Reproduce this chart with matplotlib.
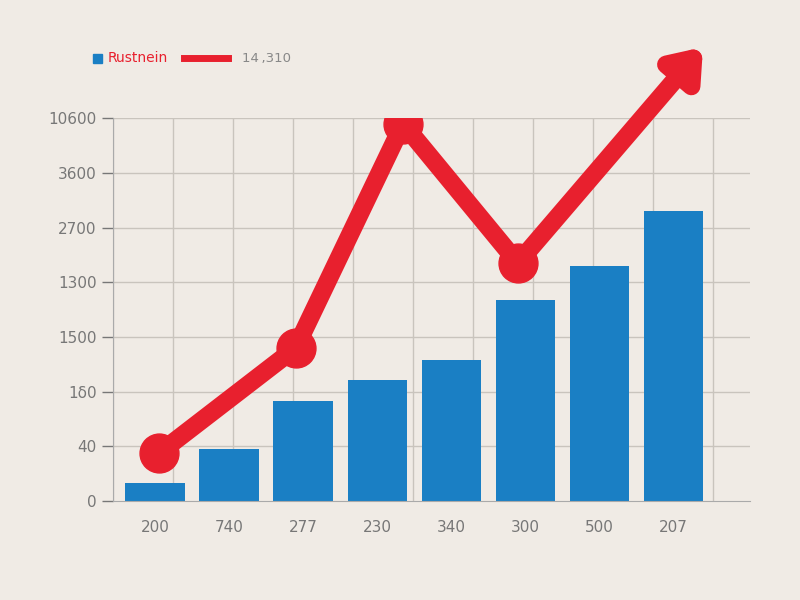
import matplotlib.pyplot as plt
import matplotlib.patches as mpatches
import matplotlib.lines as mlines
import numpy as np

# data (in grid units, tick labels are as printed on the chart)
x_labels = ['200', '740', '277', '230', '340', '300', '500', '207']
y_labels = ['0', '40', '1δ0', '1500', '1300', '2700', '3600', '10600']
bar_vals = [0.33, 0.95, 1.82, 2.22, 2.57, 3.67, 4.3, 5.3]
line_x = [0.05, 1.9, 3.35, 4.9]
line_y = [0.87, 2.8, 6.9, 4.35]
arrow_end = (7.4, 8.3)

bg = '#f0ebe5'
blue = '#1a7fc4'
red = '#e8202e'

fig = plt.figure(figsize=(8, 6), dpi=100, facecolor=bg)
ax = fig.add_axes([0.141, 0.165, 0.797, 0.638], facecolor=bg)

xs = np.arange(len(bar_vals))
ax.bar(xs, bar_vals, width=0.8, color=blue, zorder=2)

for gx in np.arange(-0.57, 8.1, 0.81):
    ax.axvline(gx, color='#c9c4bd', lw=1, zorder=1)
for gy in range(1, 8):
    ax.axhline(gy, color='#c9c4bd', lw=1, zorder=1)

ax.plot(line_x, line_y, color=red, lw=13, solid_capstyle='round',
        solid_joinstyle='round', zorder=3)
ax.plot(line_x, line_y, 'o', color=red, ms=28, zorder=4)
ax.annotate('', xy=arrow_end, xytext=(line_x[-1], line_y[-1]),
            arrowprops=dict(arrowstyle='-|>,head_length=1.6,head_width=1.2',
                            color=red, lw=13, shrinkA=0, shrinkB=0),
            annotation_clip=False, zorder=5)

ax.set_xlim(-0.57, 8.04)
ax.set_ylim(0, 7)
ax.set_xticks(xs - 0.0)
ax.set_xticklabels(x_labels)
ax.set_yticks(range(8))
ax.set_yticklabels(y_labels)
ax.tick_params(colors='#777777', labelsize=11, length=8, width=1)
ax.tick_params(axis='x', length=0, pad=14)
for s in ['top', 'right']:
    ax.spines[s].set_visible(False)
ax.spines['left'].set_color('#aaaaaa')
ax.spines['bottom'].set_color('#aaaaaa')

# legend
fig.patches.append(mpatches.Rectangle((0.116, 0.895), 0.011, 0.015, color=blue,
                                      transform=fig.transFigure))
fig.text(0.135, 0.903, 'Rustnein', color=red, fontsize=10, va='center')
fig.lines.append(mlines.Line2D([0.23, 0.285], [0.903, 0.903], color=red, lw=5,
                               transform=fig.transFigure))
fig.text(0.302, 0.903, '14\u2009,310', color='#888888', fontsize=9.5, va='center')

fig.savefig('out.png', dpi=100, facecolor=bg)
